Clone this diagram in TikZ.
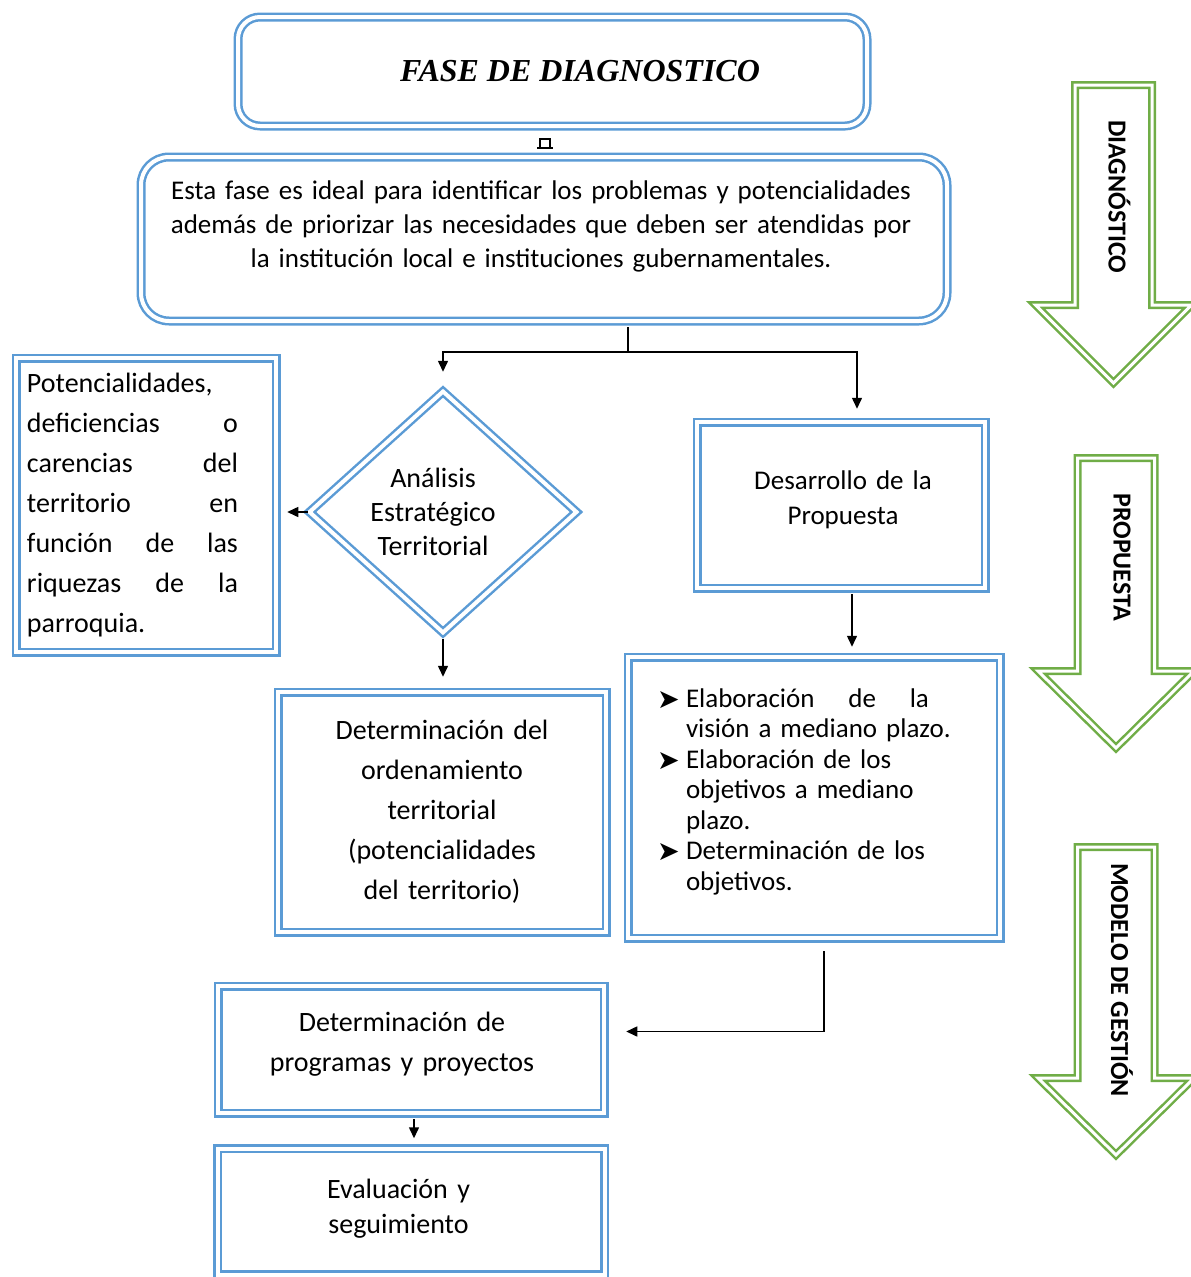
\documentclass[tikz,border=0pt]{standalone}
\usepackage{fontspec}
\setmainfont{Carlito}
\newfontfamily\titlefont{Liberation Serif}
\newfontfamily\symfont{DejaVu Sans}
\usepackage{xcolor}
\definecolor{box-blue}{HTML}{5B9BD5}
\definecolor{phase-green}{HTML}{70AD47}
\usetikzlibrary{shapes.geometric,arrows.meta,positioning,calc}
\tikzset{
  flowbox/.style={
    rectangle, draw=box-blue, double=white,
    line width=2.5pt, double distance=4pt,
    inner sep=0pt, align=center,
    font=\fontsize{28}{40}\selectfont
  },
  roundbox/.style={
    flowbox, rounded corners=24pt
  },
  decision/.style={
    diamond, draw=box-blue, double=white,
    line width=2.5pt, double distance=4pt,
    inner sep=0pt, align=center, aspect=1.1,
    font=\fontsize{28}{34}\selectfont
  },
  phasearrow/.style={
    draw=phase-green, double=white,
    line width=2.5pt, double distance=3pt, line join=miter
  },
  phaselabel/.style={
    rotate=-90, anchor=west, inner sep=0pt,
    font=\fontsize{26}{30}\selectfont\bfseries
  },
}
\newcommand{\objbullet}{\makebox[29pt][l]{\raisebox{-1pt}{\fontsize{27}{27}\symfont ➤}}}
% centred lines, moved sideways
\newcommand{\shiftlines}[2]{\leavevmode\leftskip=#1 plus 1fil\rightskip=#2 plus 1fil\parfillskip=0pt\relax}
% extra room under the text, lifts it by half
\newcommand{\padbelow}[1]{\par\nointerlineskip\leavevmode\rule{0pt}{#1}}
% one justified line
\newcommand{\spreadline}[2]{\leavevmode\hbox to #1{#2}}
\hyphenpenalty=10000
\exhyphenpenalty=10000

\begin{document}
\begin{tikzpicture}[
  x=1pt, y=-1pt,
  arr/.style={-{Triangle[length=11pt,width=10pt]}, line width=1.5pt, black},
  node distance=33pt
]
  \useasboundingbox (0,0) rectangle (1191,1277);

  \node[roundbox, rounded corners=22pt, minimum width=629pt, minimum height=109pt,
        font={\titlefont\bfseries\itshape\fontsize{32}{36}\selectfont}] (title) at (552.5,71.5)
        {\hspace*{55pt}FASE DE DIAGNOSTICO};
  \node[roundbox, rounded corners=28pt, minimum width=806pt, minimum height=164pt,
        text width=790pt, font=\fontsize{27}{34}\selectfont] (desc) at (544,239)
        {\shiftlines{0pt}{6pt}Esta fase es ideal para identificar los problemas y potencialidades\\
         además de priorizar las necesidades que deben ser atendidas por\\
         la institución local e instituciones gubernamentales.\padbelow{26pt}};
  \node[flowbox, minimum width=260pt, minimum height=294pt, text width=238pt,
        align=left] (pot) at (146,505)
        {Potencialidades,\\
         \spreadline{211pt}{deficiencias\hfill o}\\
         \spreadline{211pt}{carencias\hfill del}\\
         \spreadline{211pt}{territorio\hfill en}\\
         \spreadline{211pt}{función\hfill de\hfill las}\\
         \spreadline{211pt}{riquezas\hfill de\hfill la}\\
         parroquia.};
  \node[decision, minimum width=268pt, minimum height=242pt] (ana) at (443,512)
        {\hspace*{-20pt}Análisis\\\hspace*{-20pt}Estratégico\\\hspace*{-20pt}Territorial};
  \node[flowbox, minimum width=288pt, minimum height=166pt, text width=270pt,
        font=\fontsize{27}{35}\selectfont] (desa) at (841,505)
        {\shiftlines{4pt}{0pt}Desarrollo de la\\Propuesta\padbelow{10pt}};
  \node[flowbox, minimum width=372pt, minimum height=281pt, text width=314pt,
        align=left, font=\fontsize{27}{30.5}\selectfont] (obj) at (814,797.5)
        {\objbullet\spreadline{243pt}{Elaboración\hfill de\hfill la}\\
         \hspace*{29pt}visión a mediano plazo.\\
         \objbullet Elaboración de los\\
         \hspace*{29pt}objetivos a mediano\\
         \hspace*{29pt}plazo.\\
         \objbullet Determinación de los\\
         \hspace*{29pt}objetivos.\padbelow{12pt}};
  \node[flowbox, minimum width=328pt, minimum height=240pt, text width=300pt] (ord) at (442,812)
        {Determinación del\\ordenamiento\\territorial\\(potencialidades\\del territorio)};
  \node[flowbox, minimum width=386pt, minimum height=127pt, text width=360pt] (prog) at (411,1049.5)
        {\shiftlines{0pt}{18pt}Determinación de\\programas y proyectos\padbelow{10pt}};
  \node[flowbox, minimum width=387pt, minimum height=126pt, text width=360pt,
        font=\fontsize{28}{35}\selectfont, below=of prog] (eva)
        {\shiftlines{0pt}{25pt}Evaluación y\\seguimiento\padbelow{6pt}};

  \draw[line width=1.2pt] (540,148) -- (540,139) -- (550,139) -- (550,148)
        (537,148) -- (553,148);

  \coordinate (split) at (628,352);
  \draw[arr, shorten <=5pt, shorten >=18pt] (desc.south -| split) -- (split) -| (ana.north);
  \draw[arr, shorten >=12pt] (split) -| ([xshift=16pt]desa.north);
  \draw[arr, shorten >=10pt] (ana.west) -- (ana.west -| pot.east);
  \draw[arr, shorten <=5pt, shorten >=14pt] (ana.south) -- (ana.south |- ord.north);
  \draw[arr, shorten <=5pt, shorten >=9pt] ([xshift=11pt]desa.south) -- ([xshift=11pt]desa.south |- obj.north);
  \draw[arr, shorten <=12pt, shorten >=21pt] ([xshift=10pt]obj.south) |- ([yshift=18pt]prog.east);
  \draw[arr, shorten <=5pt, shorten >=9pt] ([xshift=3pt]prog.south) -- ([xshift=3pt]prog.south |- eva.north);

  \foreach \i/\xc/\ytop/\ysh/\ytip/\ytext/\txt in {
      1/1113.5/85/305/383/120/DIAGNÓSTICO,
      2/1116/458/671/748/493/PROPUESTA,
      3/1116/847/1078/1155/863/MODELO DE GESTIÓN} {
    \draw[phasearrow] (\xc-38.5,\ytop) -- (\xc+38.5,\ytop) -- (\xc+38.5,\ysh) -- (\xc+78,\ysh)
      -- (\xc,\ytip) -- (\xc-78,\ysh) -- (\xc-38.5,\ysh) -- cycle;
    \node[phaselabel] (phase\i) at (\xc+6,\ytext) {\txt};
  }
\end{tikzpicture}
\end{document}
